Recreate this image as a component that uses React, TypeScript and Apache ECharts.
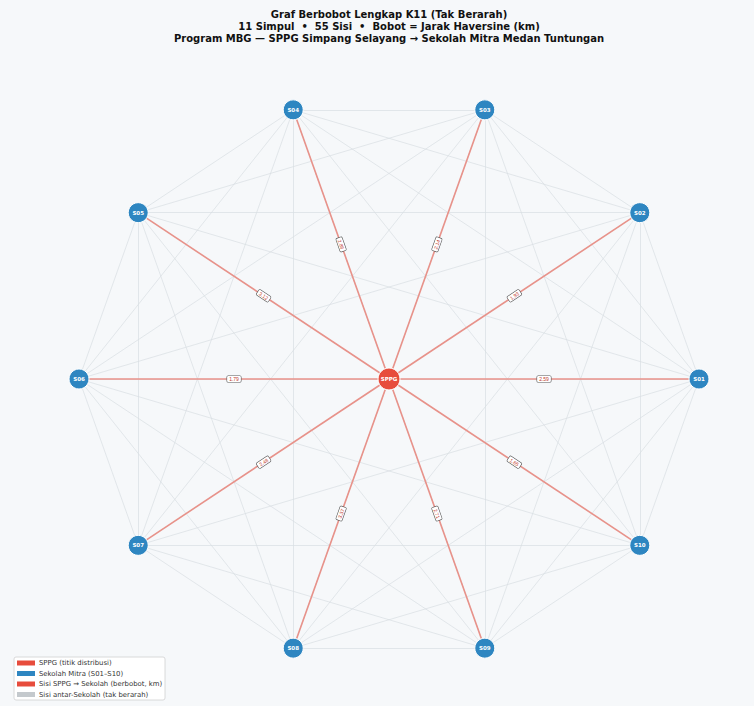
import React, { useEffect, useRef } from "react";
import * as echarts from "echarts";

const titleLines = [
  "Graf Berbobot Lengkap K11 (Tak Berarah)",
  "11 Simpul  •  55 Sisi  •  Bobot = Jarak Haversine (km)",
  "Program MBG — SPPG Simpang Selayang → Sekolah Mitra Medan Tuntungan",
];

const hubName = "SPPG";
const schools = ["S01", "S02", "S03", "S04", "S05", "S06", "S07", "S08", "S09", "S10"];
// distances SPPG -> school (km)
const hubDistances = [2.59, 1.93, 2.14, 2.86, 3.12, 1.79, 2.48, 3.37, 2.71, 1.65];

const legendItems = [
  { label: "SPPG (titik distribusi)", color: "#e74c3c" },
  { label: "Sekolah Mitra (S01–S10)", color: "#2e86c1" },
  { label: "Sisi SPPG → Sekolah (berbobot, km)", color: "#e74c3c" },
  { label: "Sisi antar-Sekolah (tak berarah)", color: "#c4c9cd" },
];

export default function App() {
  const ref = useRef<HTMLDivElement>(null);
  useEffect(() => {
    document.body.style.margin = "0";
    const chart = echarts.init(ref.current!, null, { renderer: "svg" });

    const nodes: any[] = [
      {
        name: hubName,
        value: [0, 0],
        symbolSize: 22,
        itemStyle: { color: "#e74c3c", borderColor: "#ffffff", borderWidth: 1 },
      },
    ];
    schools.forEach((s, i) => {
      const a = (i * 36 * Math.PI) / 180;
      nodes.push({
        name: s,
        value: [Math.cos(a), Math.sin(a)],
        symbolSize: 20,
        itemStyle: { color: "#2e86c1", borderColor: "#ffffff", borderWidth: 1 },
      });
    });

    const links: any[] = [];
    for (let i = 0; i < schools.length; i++) {
      for (let j = i + 1; j < schools.length; j++) {
        links.push({
          source: schools[i],
          target: schools[j],
          lineStyle: { color: "#d9dee2", width: 0.7, opacity: 1 },
          label: { show: false },
        });
      }
    }
    schools.forEach((s, i) => {
      links.push({
        source: hubName,
        target: s,
        value: hubDistances[i],
        lineStyle: { color: "#e8928a", width: 1.6, opacity: 1 },
        label: {
          show: true,
          position: "middle",
          verticalAlign: "middle",
          align: "center",
          formatter: hubDistances[i].toFixed(2),
          fontSize: 5,
          color: "#c0392b",
          backgroundColor: "#ffffff",
          borderColor: "#555555",
          borderWidth: 0.6,
          borderRadius: 1,
          padding: [0.5, 2],
          distance: 0,
        },
      });
    });

    const graphic: any[] = titleLines.map((t, i) => ({
      type: "text",
      x: 389,
      y: 9 + i * 12,
      style: {
        text: t,
        textAlign: "center",
        fontFamily: "DejaVu Sans",
        fontWeight: "bold",
        fontSize: 10,
        fill: "#111111",
      },
    }));
    graphic.push({
      type: "rect",
      shape: { x: 14, y: 657, width: 151, height: 43, r: 2 },
      style: { fill: "#ffffff", stroke: "#d0d0d0", lineWidth: 0.8 },
    });
    legendItems.forEach((it, i) => {
      const cy = 663 + i * 10.5;
      graphic.push({
        type: "rect",
        shape: { x: 17, y: cy - 2.5, width: 18, height: 5 },
        style: { fill: it.color },
      });
      graphic.push({
        type: "text",
        x: 39,
        y: cy,
        style: {
          text: it.label,
          fontFamily: "DejaVu Sans",
          fontSize: 6.9,
          fill: "#333333",
          verticalAlign: "middle",
        },
      });
    });

    chart.setOption({
      animation: false,
      backgroundColor: "#f6f8fa",
      grid: { left: 79, width: 620, top: 96, height: 566 },
      xAxis: { type: "value", min: -1, max: 1, show: false },
      yAxis: { type: "value", min: -1, max: 1, show: false },
      graphic,
      series: [
        {
          type: "graph",
          coordinateSystem: "cartesian2d",
          layout: "none",
          data: nodes,
          links,
          symbol: "circle",
          label: {
            show: true,
            position: "inside",
            color: "#ffffff",
            fontFamily: "DejaVu Sans",
            fontWeight: "bold",
            fontSize: 5.5,
          },
          edgeLabel: { show: false },
          emphasis: { disabled: true },
          z: 2,
        },
      ],
    });
    return () => chart.dispose();
  }, []);
  return <div ref={ref} style={{ width: 754, height: 706 }} />;
}
